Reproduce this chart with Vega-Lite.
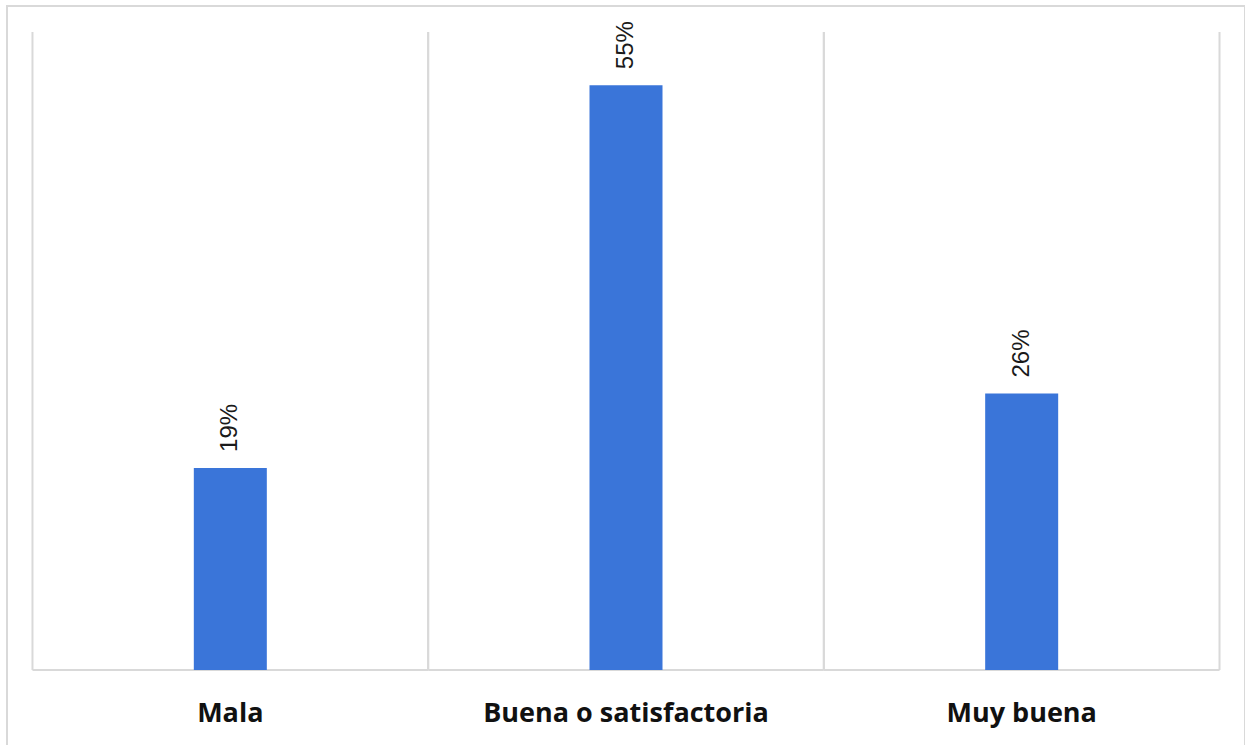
{
  "$schema": "https://vega.github.io/schema/vega-lite/v6.json",
  "autosize": {"type": "none"},
  "padding": {"left": 7, "top": 6, "right": 0, "bottom": 0},
  "width": 1238,
  "height": 742,
  "background": "white",
  "config": {
    "view": {"stroke": "#d9d9d9", "strokeWidth": 2}
  },
  "data": {
    "values": [
      {"categoria": "Mala", "porcentaje": 0.19},
      {"categoria": "Buena o satisfactoria", "porcentaje": 0.55},
      {"categoria": "Muy buena", "porcentaje": 0.26}
    ]
  },
  "encoding": {
    "x": {
      "field": "categoria",
      "type": "nominal",
      "sort": null,
      "axis": null,
      "scale": {"paddingInner": 0, "paddingOuter": 0.0644}
    }
  },
  "resolve": {"scale": {"y": "shared"}},
  "layer": [
    {
      "mark": {"type": "rule", "color": "#d9d9d9", "strokeWidth": 2},
      "encoding": {
        "x": {"field": "categoria", "type": "nominal", "sort": null, "bandPosition": 0},
        "y": {"datum": 0, "type": "quantitative", "scale": {"domain": [-0.0734, 0.6245], "nice": false, "zero": false}, "axis": null},
        "y2": {"datum": 0.6}
      }
    },
    {
      "mark": {"type": "rule", "color": "#d9d9d9", "strokeWidth": 2},
      "encoding": {
        "x": {"field": "categoria", "type": "nominal", "sort": null, "bandPosition": 1},
        "y": {"datum": 0, "type": "quantitative"},
        "y2": {"datum": 0.6}
      }
    },
    {
      "mark": {"type": "rule", "color": "#d9d9d9", "strokeWidth": 2},
      "encoding": {
        "x": {"field": "categoria", "type": "nominal", "sort": null, "bandPosition": 0},
        "x2": {"field": "categoria", "bandPosition": 1},
        "y": {"datum": 0, "type": "quantitative"}
      }
    },
    {
      "mark": {"type": "bar", "color": "#3a75d9", "width": {"band": 0.1845}},
      "encoding": {
        "y": {"field": "porcentaje", "type": "quantitative"},
        "y2": {"datum": 0}
      }
    },
    {
      "mark": {
        "type": "text",
        "angle": 270,
        "align": "left",
        "baseline": "middle",
        "dx": 16,
        "font": "Liberation Sans",
        "fontSize": 24,
        "color": "#1a1a1a"
      },
      "encoding": {
        "y": {"field": "porcentaje", "type": "quantitative"},
        "text": {"field": "porcentaje", "type": "quantitative", "format": ".0%"}
      }
    },
    {
      "mark": {
        "type": "text",
        "align": "center",
        "baseline": "middle",
        "font": "Open Sans",
        "fontWeight": "bold",
        "fontSize": 27,
        "color": "#111111"
      },
      "encoding": {
        "y": {"datum": -0.0415, "type": "quantitative"},
        "text": {"field": "categoria", "type": "nominal"}
      }
    }
  ]
}
